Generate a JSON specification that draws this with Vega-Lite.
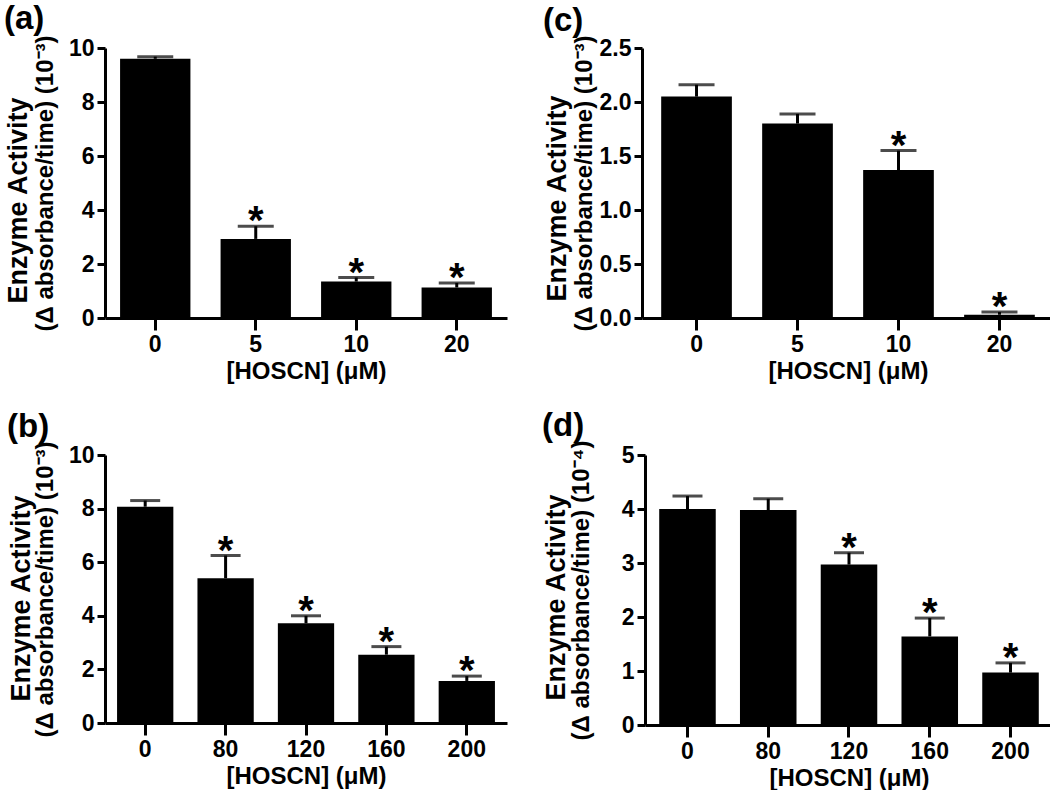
{
  "$schema": "https://vega.github.io/schema/vega-lite/v6.json",
  "background": "white",
  "padding": {"left": 3, "top": 2, "right": 0, "bottom": 0},
  "datasets": {
    "a": [
      {"conc": 0, "value": 9.6, "hi": 9.68, "sig": ""},
      {"conc": 5, "value": 2.93, "hi": 3.4, "sig": "*"},
      {"conc": 10, "value": 1.35, "hi": 1.5, "sig": "*"},
      {"conc": 20, "value": 1.13, "hi": 1.3, "sig": "*"}
    ],
    "c": [
      {"conc": 0, "value": 2.05, "hi": 2.16, "sig": ""},
      {"conc": 5, "value": 1.8, "hi": 1.89, "sig": ""},
      {"conc": 10, "value": 1.37, "hi": 1.55, "sig": "*"},
      {"conc": 20, "value": 0.03, "hi": 0.055, "sig": "*"}
    ],
    "b": [
      {"conc": 0, "value": 8.07, "hi": 8.3, "sig": ""},
      {"conc": 80, "value": 5.4, "hi": 6.25, "sig": "*"},
      {"conc": 120, "value": 3.72, "hi": 4.0, "sig": "*"},
      {"conc": 160, "value": 2.55, "hi": 2.85, "sig": "*"},
      {"conc": 200, "value": 1.57, "hi": 1.75, "sig": "*"}
    ],
    "d": [
      {"conc": 0, "value": 4.0, "hi": 4.24, "sig": ""},
      {"conc": 80, "value": 3.98, "hi": 4.19, "sig": ""},
      {"conc": 120, "value": 2.97, "hi": 3.19, "sig": "*"},
      {"conc": 160, "value": 1.64, "hi": 1.98, "sig": "*"},
      {"conc": 200, "value": 0.97, "hi": 1.15, "sig": "*"}
    ]
  },
  "config": {
    "view": {"stroke": null},
    "font": "Liberation Sans",
    "axis": {
      "domainColor": "black", "domainWidth": 3,
      "tickColor": "black", "tickWidth": 3,
      "labelColor": "black", "labelFont": "Liberation Sans", "labelFontWeight": "bold", "labelFontSize": 23,
      "titleColor": "black", "titleFont": "Liberation Sans", "titleFontWeight": "bold",
      "grid": false
    },
    "axisX": {"tickSize": 12, "labelAngle": 0, "labelPadding": 3, "titleFontSize": 24, "titlePadding": 3},
    "axisY": {"tickSize": 8, "labelPadding": 3, "titleFontSize": 24, "titlePadding": 8},
    "title": {"anchor": "start", "fontSize": 33, "font": "Liberation Sans", "fontWeight": "bold", "color": "black", "offset": -3, "frame": "bounds"}
  },
  "spacing": 27,
  "vconcat": [
    {
      "spacing": 35,
      "hconcat": [
        {
          "title": "(a)",
          "width": 402, "height": 270,
          "data": {"name": "a"},
          "resolve": {"axis": {"y": "independent"}},
          "encoding": {
            "x": {"field": "conc", "type": "ordinal", "scale": {"paddingInner": 0.3, "paddingOuter": 0.15},
                  "axis": {"title": "[HOSCN] (μM)"}}
          },
          "layer": [
            {"mark": {"type": "bar", "color": "black"},
             "encoding": {"y": {"field": "value", "type": "quantitative", "scale": {"domain": [0, 10], "nice": false},
               "axis": {"values": [0, 2, 4, 6, 8, 10], "title": "(Δ absorbance/time) (10⁻³)", "titleX": -48}}}},
            {"mark": {"type": "rule", "color": "black", "strokeWidth": 3},
             "encoding": {"y": {"field": "value", "type": "quantitative",
               "axis": {"orient": "left", "domain": false, "ticks": false, "labels": false, "title": "Enzyme Activity", "titleFontSize": 27, "titleX": -73, "titleY": 152}},
               "y2": {"field": "hi"}}},
            {"mark": {"type": "tick", "color": "black", "thickness": 3, "size": 36, "orient": "horizontal"},
             "encoding": {"y": {"field": "hi", "type": "quantitative", "axis": null}}},
            {"mark": {"type": "text", "color": "black", "fontSize": 40, "fontWeight": "bold", "baseline": "alphabetic", "dy": 8},
             "encoding": {"y": {"field": "hi", "type": "quantitative", "axis": null}, "text": {"field": "sig"}}}
          ]
        },
        {
          "title": "(c)",
          "width": 412, "height": 270,
          "data": {"name": "c"},
          "resolve": {"axis": {"y": "independent"}},
          "encoding": {
            "x": {"field": "conc", "type": "ordinal", "scale": {"paddingInner": 0.3, "paddingOuter": 0.19},
                  "axis": {"title": "[HOSCN] (μM)"}}
          },
          "layer": [
            {"mark": {"type": "bar", "color": "black"},
             "encoding": {"y": {"field": "value", "type": "quantitative", "scale": {"domain": [0, 2.5], "nice": false},
               "axis": {"values": [0, 0.5, 1, 1.5, 2, 2.5], "format": ".1f", "title": "(Δ absorbance/time) (10⁻³)", "titleX": -46}}}},
            {"mark": {"type": "rule", "color": "black", "strokeWidth": 3},
             "encoding": {"y": {"field": "value", "type": "quantitative",
               "axis": {"orient": "left", "domain": false, "ticks": false, "labels": false, "title": "Enzyme Activity", "titleFontSize": 27, "titleX": -71, "titleY": 150}},
               "y2": {"field": "hi"}}},
            {"mark": {"type": "tick", "color": "black", "thickness": 3, "size": 36, "orient": "horizontal"},
             "encoding": {"y": {"field": "hi", "type": "quantitative", "axis": null}}},
            {"mark": {"type": "text", "color": "black", "fontSize": 40, "fontWeight": "bold", "baseline": "alphabetic", "dy": 8},
             "encoding": {"y": {"field": "hi", "type": "quantitative", "axis": null}, "text": {"field": "sig"}}}
          ]
        }
      ]
    },
    {
      "spacing": 34,
      "hconcat": [
        {
          "title": "(b)",
          "width": 402, "height": 268,
          "data": {"name": "b"},
          "resolve": {"axis": {"y": "independent"}},
          "encoding": {
            "x": {"field": "conc", "type": "ordinal", "scale": {"paddingInner": 0.3, "paddingOuter": 0.15},
                  "axis": {"title": "[HOSCN] (μM)"}}
          },
          "layer": [
            {"mark": {"type": "bar", "color": "black"},
             "encoding": {"y": {"field": "value", "type": "quantitative", "scale": {"domain": [0, 10], "nice": false},
               "axis": {"values": [0, 2, 4, 6, 8, 10], "title": "(Δ absorbance/time) (10⁻³)", "titleX": -48}}}},
            {"mark": {"type": "rule", "color": "black", "strokeWidth": 3},
             "encoding": {"y": {"field": "value", "type": "quantitative",
               "axis": {"orient": "left", "domain": false, "ticks": false, "labels": false, "title": "Enzyme Activity", "titleFontSize": 27, "titleX": -70, "titleY": 143}},
               "y2": {"field": "hi"}}},
            {"mark": {"type": "tick", "color": "black", "thickness": 3, "size": 30, "orient": "horizontal"},
             "encoding": {"y": {"field": "hi", "type": "quantitative", "axis": null}}},
            {"mark": {"type": "text", "color": "black", "fontSize": 40, "fontWeight": "bold", "baseline": "alphabetic", "dy": 8},
             "encoding": {"y": {"field": "hi", "type": "quantitative", "axis": null}, "text": {"field": "sig"}}}
          ]
        },
        {
          "title": "(d)",
          "width": 408, "height": 270,
          "data": {"name": "d"},
          "resolve": {"axis": {"y": "independent"}},
          "encoding": {
            "x": {"field": "conc", "type": "ordinal", "scale": {"paddingInner": 0.3, "paddingOuter": 0.176},
                  "axis": {"title": "[HOSCN] (μM)"}}
          },
          "layer": [
            {"mark": {"type": "bar", "color": "black"},
             "encoding": {"y": {"field": "value", "type": "quantitative", "scale": {"domain": [0, 5], "nice": false},
               "axis": {"values": [0, 1, 2, 3, 4, 5], "title": "(Δ absorbance/time) (10⁻⁴)", "titleX": -52}}}},
            {"mark": {"type": "rule", "color": "black", "strokeWidth": 3},
             "encoding": {"y": {"field": "value", "type": "quantitative",
               "axis": {"orient": "left", "domain": false, "ticks": false, "labels": false, "title": "Enzyme Activity", "titleFontSize": 27, "titleX": -75, "titleY": 142}},
               "y2": {"field": "hi"}}},
            {"mark": {"type": "tick", "color": "black", "thickness": 3, "size": 30, "orient": "horizontal"},
             "encoding": {"y": {"field": "hi", "type": "quantitative", "axis": null}}},
            {"mark": {"type": "text", "color": "black", "fontSize": 40, "fontWeight": "bold", "baseline": "alphabetic", "dy": 8},
             "encoding": {"y": {"field": "hi", "type": "quantitative", "axis": null}, "text": {"field": "sig"}}}
          ]
        }
      ]
    }
  ]
}
